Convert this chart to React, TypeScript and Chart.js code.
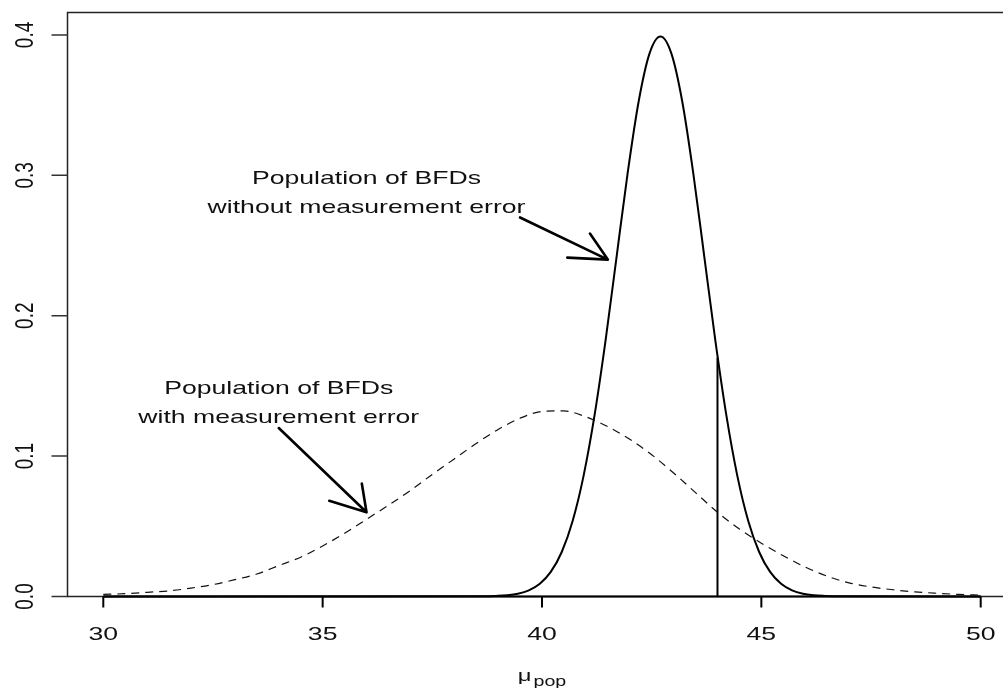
import React, { useEffect, useRef } from "react";
import { Chart, registerables } from "chart.js";

Chart.register(...registerables);

// ---- data ----
const xTicks = [30, 35, 40, 45, 50];
const xTickLabels = ["30", "35", "40", "45", "50"];
const yTicks = [0, 0.1, 0.2, 0.3, 0.4];
const yTickLabels = ["0.0", "0.1", "0.2", "0.3", "0.4"];

// population without measurement error (solid)
const solidX = [30, 38.7, 38.95, 39.2, 39.45, 39.7, 39.95, 40.2, 40.45, 40.7, 40.95, 41.2, 41.45, 41.7, 41.95, 42.2, 42.45, 42.7, 42.95, 43.2, 43.45, 43.7, 43.95, 44.2, 44.45, 44.7, 44.95, 45.2, 45.45, 45.7, 45.95, 46.2, 46.45, 46.7, 50];
const solidY = [0, 0.0001, 0.0004, 0.0009, 0.002, 0.0044, 0.0091, 0.0175, 0.0317, 0.054, 0.0863, 0.1295, 0.1826, 0.242, 0.3011, 0.3521, 0.3867, 0.3989, 0.3867, 0.3521, 0.3011, 0.242, 0.1826, 0.1295, 0.0863, 0.054, 0.0317, 0.0175, 0.0091, 0.0044, 0.002, 0.0009, 0.0004, 0.0001, 0];

// population with measurement error (dashed)
const dashedX = [30, 30.5, 31, 31.5, 32, 32.5, 33, 33.5, 34, 34.5, 35, 35.5, 36, 36.5, 37, 37.5, 38, 38.5, 39, 39.5, 40, 40.5, 41, 41.5, 42, 42.5, 43, 43.5, 44, 44.5, 45, 45.5, 46, 46.5, 47, 47.5, 48, 48.5, 49, 49.5, 50];
const dashedY = [0.0015, 0.002, 0.003, 0.004, 0.006, 0.0085, 0.012, 0.016, 0.022, 0.028, 0.036, 0.045, 0.055, 0.065, 0.0755, 0.087, 0.098, 0.109, 0.119, 0.127, 0.1318, 0.1322, 0.128, 0.121, 0.112, 0.101, 0.088, 0.074, 0.06, 0.048, 0.038, 0.029, 0.021, 0.0145, 0.0097, 0.0068, 0.0048, 0.0033, 0.0023, 0.0015, 0.001];

// vertical cut-off line
const cutoffX = [44, 44];
const cutoffY = [0, 0.17];

// annotations (data units)
const noteLine1 = ["Population of BFDs", "Population of BFDs"];
const noteLine2 = ["without measurement error", "with measurement error"];
const noteX = [36, 34];
const noteY1 = [0.2988, 0.1492];
const noteY2 = [0.2782, 0.1286];
const arrowX0 = [39.5, 34];
const arrowY0 = [0.27, 0.12];
const arrowX1 = [41.5, 36];
const arrowY1 = [0.24, 0.06];

const axisTitle = "μ";
const axisTitleSub = "pop";

const SX = 1.4; // horizontal stretch of the reference picture
const FONT = '"Liberation Sans", Arial, sans-serif';
const FS = 19;

const rPlot = {
  id: "rplot",
  afterDraw(chart: any) {
    const { ctx, chartArea: ca, scales } = chart;
    const xs = scales.x;
    const ys = scales.y;
    ctx.save();

    // box (left, top, bottom visible; right off-screen)
    ctx.strokeStyle = "#222";
    ctx.lineWidth = 1.5;
    ctx.beginPath();
    ctx.rect(ca.left, ca.top, ca.right - ca.left, ca.bottom - ca.top);
    ctx.stroke();

    // x axis
    ctx.strokeStyle = "#000";
    ctx.lineWidth = 2;
    ctx.beginPath();
    ctx.moveTo(xs.getPixelForValue(xTicks[0]), ca.bottom);
    ctx.lineTo(xs.getPixelForValue(xTicks[xTicks.length - 1]), ca.bottom);
    xTicks.forEach((t) => {
      const px = xs.getPixelForValue(t);
      ctx.moveTo(px, ca.bottom);
      ctx.lineTo(px, ca.bottom + 11);
    });
    ctx.stroke();

    ctx.fillStyle = "#111";
    ctx.font = `${FS}px ${FONT}`;
    ctx.textAlign = "center";
    ctx.textBaseline = "alphabetic";
    xTicks.forEach((t, i) => {
      const px = xs.getPixelForValue(t);
      ctx.save();
      ctx.translate(px, ca.bottom + 43.5);
      ctx.scale(SX, 1);
      ctx.fillText(xTickLabels[i], 0, 0);
      ctx.restore();
    });

    // y axis ticks
    ctx.strokeStyle = "#333";
    ctx.lineWidth = 1.5;
    ctx.beginPath();
    yTicks.forEach((t) => {
      const py = ys.getPixelForValue(t);
      ctx.moveTo(ca.left, py);
      ctx.lineTo(ca.left - 16, py);
    });
    ctx.stroke();
    yTicks.forEach((t, i) => {
      const py = ys.getPixelForValue(t);
      ctx.save();
      ctx.translate(ca.left - 34.5, py);
      ctx.scale(SX, 1);
      ctx.rotate(-Math.PI / 2);
      ctx.fillText(yTickLabels[i], 0, 0);
      ctx.restore();
    });

    // axis title mu_pop
    const cx = (ca.left + ca.right) / 2;
    ctx.font = `17px ${FONT}`;
    const wMu = ctx.measureText(axisTitle).width * SX;
    ctx.font = `14px ${FONT}`;
    const wSub = ctx.measureText(axisTitleSub).width * SX;
    const start = cx - (wMu + wSub + 2) / 2;
    ctx.textAlign = "left";
    ctx.save();
    ctx.translate(start, 681);
    ctx.scale(SX, 1);
    ctx.font = `17px ${FONT}`;
    ctx.fillText(axisTitle, 0, 0);
    ctx.restore();
    ctx.save();
    ctx.translate(start + wMu + 2, 686);
    ctx.scale(SX, 1);
    ctx.font = `14px ${FONT}`;
    ctx.fillText(axisTitleSub, 0, 0);
    ctx.restore();

    // annotations
    ctx.font = `${FS}px ${FONT}`;
    ctx.textAlign = "center";
    const capOff = FS * 0.36;
    for (let i = 0; i < noteX.length; i++) {
      const px = xs.getPixelForValue(noteX[i]);
      [[noteLine1[i], noteY1[i]], [noteLine2[i], noteY2[i]]].forEach(([txt, yv]: any) => {
        ctx.save();
        ctx.translate(px, ys.getPixelForValue(yv) + capOff);
        ctx.scale(SX, 1);
        ctx.fillText(txt, 0, 0);
        ctx.restore();
      });
    }

    // arrows
    ctx.strokeStyle = "#000";
    ctx.lineWidth = 2.6;
    ctx.lineCap = "round";
    for (let i = 0; i < arrowX0.length; i++) {
      const x0 = xs.getPixelForValue(arrowX0[i]);
      const y0 = ys.getPixelForValue(arrowY0[i]);
      const x1 = xs.getPixelForValue(arrowX1[i]);
      const y1 = ys.getPixelForValue(arrowY1[i]);
      const ang = Math.atan2(y1 - y0, (x1 - x0) / SX);
      const back = ang + Math.PI;
      ctx.beginPath();
      ctx.moveTo(x0, y0);
      ctx.lineTo(x1, y1);
      [-1, 1].forEach((s) => {
        const a = back + (s * Math.PI) / 6;
        ctx.moveTo(x1, y1);
        ctx.lineTo(x1 + Math.cos(a) * 29 * SX, y1 + Math.sin(a) * 29);
      });
      ctx.stroke();
    }
    ctx.restore();
  },
};

export default function App() {
  const ref = useRef<HTMLCanvasElement>(null);
  useEffect(() => {
    if (!ref.current) return;
    const chart = new Chart(ref.current, {
      type: "line",
      data: {
        datasets: [
          {
            data: dashedX.map((x, i) => ({ x, y: dashedY[i] })),
            borderColor: "#111",
            borderWidth: 1.2,
            borderDash: [8, 6],
            pointRadius: 0,
            cubicInterpolationMode: "monotone",
            fill: false,
          },
          {
            data: solidX.map((x, i) => ({ x, y: solidY[i] })),
            borderColor: "#000",
            borderWidth: 2,
            pointRadius: 0,
            cubicInterpolationMode: "monotone",
            fill: false,
            clip: false,
          },
          {
            data: cutoffX.map((x, i) => ({ x, y: cutoffY[i] })),
            borderColor: "#000",
            borderWidth: 2,
            pointRadius: 0,
            fill: false,
          },
        ],
      },
      options: {
        responsive: false,
        animation: false,
        devicePixelRatio: 1,
        layout: { padding: { left: 67.5, right: 13.5, top: 12.5, bottom: 91.5 } },
        plugins: { legend: { display: false }, tooltip: { enabled: false }, title: { display: false } },
        scales: {
          x: { type: "linear", min: 29.184, max: 50.816, display: false },
          y: { type: "linear", min: 0, max: 0.416, display: false },
        },
      },
      plugins: [rPlot],
    });
    return () => chart.destroy();
  }, []);
  return (
    <div style={{ position: "fixed", left: 0, top: 0, width: 1003, height: 688, overflow: "hidden", background: "#fff" }}>
      <canvas ref={ref} width={1030} height={688} style={{ display: "block", width: 1030, height: 688 }} />
    </div>
  );
}
